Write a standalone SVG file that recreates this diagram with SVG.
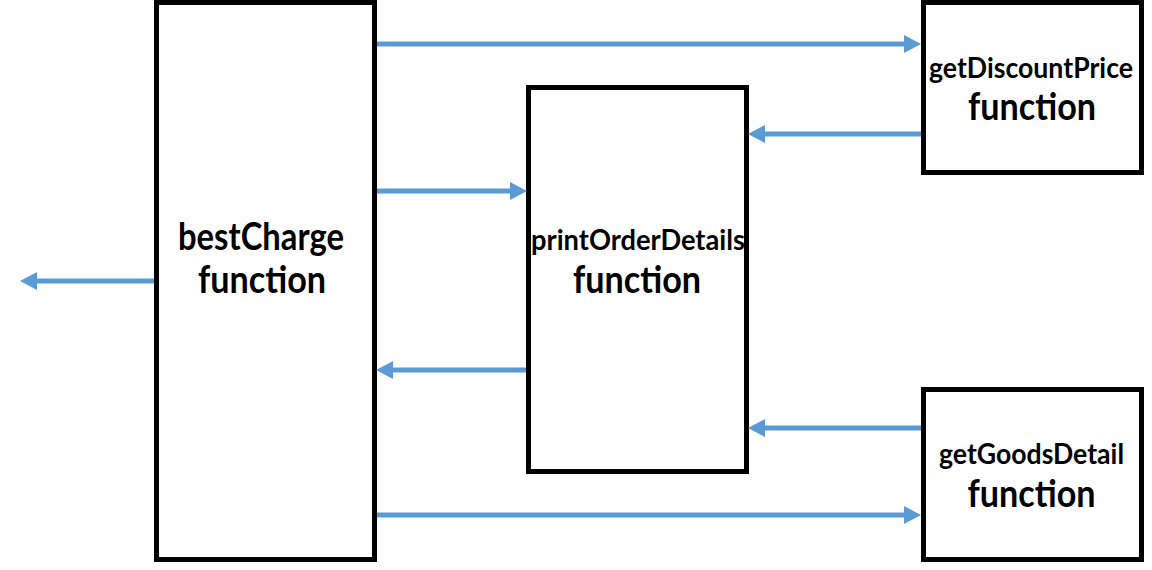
<svg xmlns="http://www.w3.org/2000/svg" width="1152" height="570" viewBox="0 0 1152 570">
<style>
.box{fill:#fff;stroke:#000;stroke-width:5}
.lbl{font-family:Lato,"Liberation Sans",sans-serif;font-weight:bold;fill:#000;text-anchor:middle}
.s{font-size:29px}
.b{font-size:38px}
.con{stroke:#5B9BD5;stroke-width:5;fill:none;marker-end:url(#ah)}
</style>
<defs>
<marker id="ah" markerUnits="userSpaceOnUse" markerWidth="18" markerHeight="20" refX="7" refY="9" orient="auto">
<path d="M0,0 L17,9 L0,18 z" fill="#5B9BD5"/>
</marker>
</defs>
<rect width="1152" height="570" fill="#fff"/>
<g id="bestCharge">
<rect class="box" x="156.5" y="2.5" width="218" height="557"/>
<text class="lbl b" x="261" y="250" textLength="166" lengthAdjust="spacingAndGlyphs">bestCharge</text>
<text class="lbl b" x="262" y="293" textLength="128" lengthAdjust="spacingAndGlyphs">function</text>
</g>
<g id="printOrderDetails">
<rect class="box" x="528.5" y="87.5" width="218" height="384"/>
<text class="lbl s" x="638" y="250" textLength="214" lengthAdjust="spacingAndGlyphs">printOrderDetails</text>
<text class="lbl b" x="637" y="293" textLength="128" lengthAdjust="spacingAndGlyphs">function</text>
</g>
<g id="getDiscountPrice">
<rect class="box" x="923.5" y="2.5" width="218" height="170"/>
<text class="lbl s" x="1031" y="78" textLength="204" lengthAdjust="spacingAndGlyphs">getDiscountPrice</text>
<text class="lbl b" x="1032" y="120" textLength="128" lengthAdjust="spacingAndGlyphs">function</text>
</g>
<g id="getGoodsDetail">
<rect class="box" x="923.5" y="389.5" width="218" height="170"/>
<text class="lbl s" x="1031.5" y="464" textLength="185" lengthAdjust="spacingAndGlyphs">getGoodsDetail</text>
<text class="lbl b" x="1031.5" y="507" textLength="128" lengthAdjust="spacingAndGlyphs">function</text>
</g>
<g id="connectors">
<line class="con" x1="377" y1="44" x2="911" y2="44"/>
<line class="con" x1="377" y1="191" x2="517" y2="191"/>
<line class="con" x1="921" y1="134" x2="758" y2="134"/>
<line class="con" x1="526" y1="370" x2="386" y2="370"/>
<line class="con" x1="921" y1="428" x2="758" y2="428"/>
<line class="con" x1="377" y1="515" x2="911" y2="515"/>
<line class="con" x1="154" y1="281" x2="30" y2="281"/>
</g>
</svg>
